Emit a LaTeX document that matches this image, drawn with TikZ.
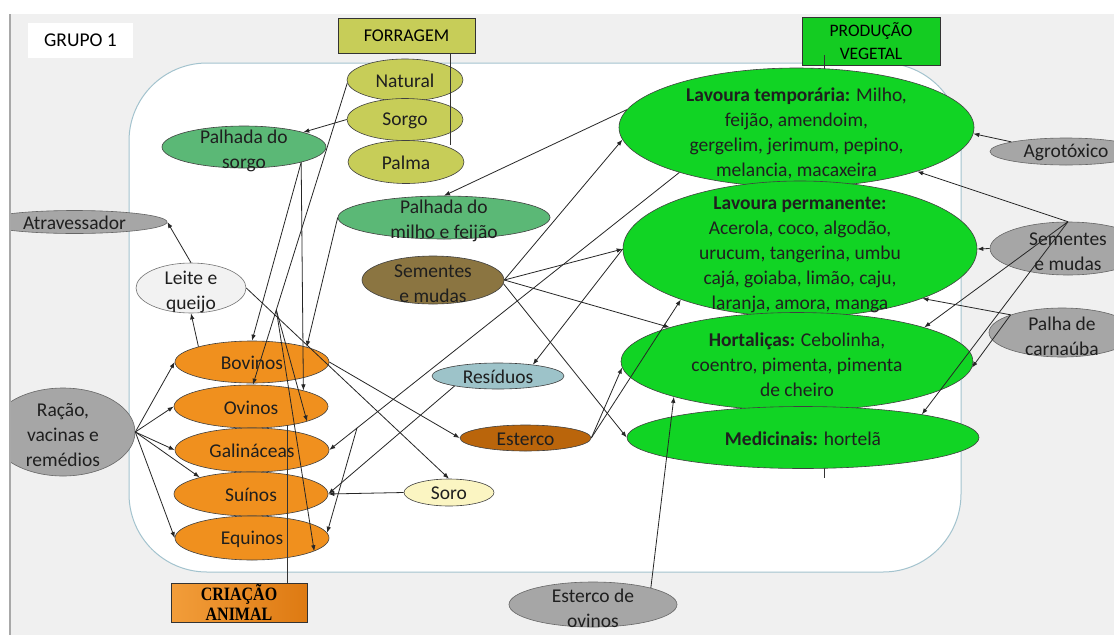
\documentclass[tikz,border=0pt]{standalone}
\usepackage{fontspec}
\setmainfont{Carlito}
\newfontfamily\timesb{Liberation Serif}
\usetikzlibrary{shapes.geometric,arrows.meta,calc}

\definecolor{bgc}{HTML}{F0F0F0}
\definecolor{leftc}{HTML}{A8A8A8}
\definecolor{rectc}{HTML}{A3C3CE}
\definecolor{forrc}{HTML}{C7CD58}
\definecolor{palhc}{HTML}{5BB876}
\definecolor{brownc}{HTML}{8B7541}
\definecolor{orngc}{HTML}{F0901E}
\definecolor{grayc}{HTML}{A6A6A6}
\definecolor{leitec}{HTML}{F2F2F2}
\definecolor{residc}{HTML}{9DC3C9}
\definecolor{esterc}{HTML}{BA650B}
\definecolor{soroc}{HTML}{FBF5C2}
\definecolor{grnc}{HTML}{11D424}
\definecolor{prodc}{HTML}{14CC22}
\definecolor{crial}{HTML}{F29D3A}
\definecolor{criar}{HTML}{DE7A12}

% name, x, y, rx, ry, ellipse style, text options, text
\newcommand{\ovalnode}[8]{%
  \node[ovalbase,#6,minimum width={#4*2pt},minimum height={#5*2pt}] (#1) at (#2,#3) {};
  \node[txt,#7] (#1-t) at (#2,#3) {#8};}

\tikzset{
  ovalbase/.style={ellipse, draw=black!75, line width=0.6pt, inner sep=0pt},
  forr/.style={fill=forrc},
  palh/.style={fill=palhc},
  brownst/.style={fill=brownc},
  orng/.style={fill=orngc},
  grayel/.style={fill=grayc, draw=black!60},
  leitest/.style={fill=leitec, draw=black!55},
  resst/.style={fill=residc},
  estst/.style={fill=esterc},
  sorost/.style={fill=soroc},
  grn/.style={fill=grnc},
  txt/.style={inner sep=0pt, align=center, font=\fontsize{19.5}{25}\selectfont, text=black!88, yshift=-1pt},
  ml/.style={yshift=-2.5pt},
  mlb/.style={yshift=-4.5pt},
  boxst/.style={draw=black!80, line width=0.8pt, inner sep=0pt, align=center},
  arr/.style={-{Latex[length=6pt,width=4.5pt]}, line width=0.8pt, draw=black!85},
  plain/.style={line width=0.8pt, draw=black!80},
}

\begin{document}
\begin{tikzpicture}[x=1pt,y=-1pt]
\useasboundingbox (0,0) rectangle (1114,635);
\clip (0,0) rectangle (1114,635);
\fill[bgc] (0,0) rectangle (1114,635);
\draw[draw=rectc, line width=1pt, fill=white, rounded corners=78pt] (129,63) rectangle (961,572);

% boxes
\node[fill=white, inner sep=0pt, minimum width=105pt, minimum height=35pt,
      font=\fontsize{19.5}{24}\selectfont] (grupo) at (80.5,40.5) {GRUPO 1};
\node[boxst, fill=forrc, minimum width=137pt, minimum height=35pt,
      font=\fontsize{18}{22}\selectfont] (forragem) at (406.5,35.5) {FORRAGEM};
\node[boxst, fill=prodc, minimum width=138pt, minimum height=48pt,
      font=\fontsize{17.5}{23}\selectfont] (producao) at (871,41) {PRODUÇÃO\\VEGETAL};
\node[boxst, left color=crial, right color=criar, minimum width=136pt, minimum height=39pt,
      font=\timesb\bfseries\fontsize{16}{20}\selectfont] (criacao) at (239,602.5)
      {\scalebox{1}[1.18]{CRIAÇÃO}\\\scalebox{1}[1.18]{ANIMAL}};

% stem behind green ellipses
\coordinate (prodtop) at (824,55);
\coordinate (prodbot) at (824,478);
\draw[plain] (prodtop) -- (prodbot);

% ellipses
\ovalnode{natural}{405}{80}{58}{21}{forr}{}{Natural}
\ovalnode{sorgo}{405}{119.5}{58}{21}{forr}{}{Sorgo}
\ovalnode{palma}{406}{162}{58}{21.5}{forr}{}{Palma}
\ovalnode{palsorgo}{244}{147}{82}{21}{palh}{ml}{Palhada do\\sorgo}
\ovalnode{palmilho}{444}{217.5}{106}{21.5}{palh}{ml}{Palhada do\\milho e feijão}
\ovalnode{sembr}{433}{280}{71}{24}{brownst}{ml}{Sementes\\e mudas}
\ovalnode{atrav}{74.5}{222}{92.5}{11.5}{grayel}{}{Atravessador}
\ovalnode{leite}{191}{288}{55}{25}{leitest}{ml}{Leite e\\queijo}
\ovalnode{racao}{63}{432}{72}{44}{grayel}{ml}{Ração,\\vacinas e\\remédios}
\ovalnode{bov}{252}{362}{77}{21}{orng}{}{Bovinos}
\ovalnode{ovi}{251}{406.5}{77}{21.5}{orng}{}{Ovinos}
\ovalnode{gal}{252}{450}{77}{22}{orng}{}{Galináceas}
\ovalnode{sui}{251}{494}{77}{22}{orng}{}{Suínos}
\ovalnode{equ}{252}{538}{77}{22}{orng}{}{Equinos}
\ovalnode{resid}{498}{376}{66}{13}{resst}{}{Resíduos}
\ovalnode{esterco}{525.5}{438}{65.5}{13}{estst}{}{Esterco}
\ovalnode{soro}{449}{492.5}{45}{13.5}{sorost}{}{Soro}
\ovalnode{estov}{593}{604.5}{84}{22.5}{grayel}{ml}{Esterco de\\ovinos}
\ovalnode{lavtemp}{796.5}{127.5}{177.5}{59.5}{grn}{mlb}{\textbf{Lavoura temporária:} Milho,\\feijão, amendoim,\\gergelim, jerimum, pepino,\\melancia, macaxeira}
\ovalnode{lavperm}{800}{249}{177}{68}{grn}{mlb}{\textbf{Lavoura permanente:}\\Acerola, coco, algodão,\\urucum, tangerina, umbu\\cajá, goiaba, limão, caju,\\laranja, amora, manga}
\ovalnode{hort}{797}{361.5}{176}{49}{grn}{ml}{\textbf{Hortaliças:} Cebolinha,\\coentro, pimenta, pimenta\\de cheiro}
\ovalnode{med}{803}{437.5}{176}{31}{grn}{}{\textbf{Medicinais:} hortelã}
\ovalnode{agro}{1066}{151.5}{76}{13.5}{grayel}{}{Agrotóxico}
\ovalnode{sg}{1068}{248.5}{78}{26.5}{grayel}{ml}{Sementes\\e mudas}
\ovalnode{palha}{1062}{332.5}{73}{24.5}{grayel}{ml}{Palha de\\carnaúba}

% stems over ellipses
\coordinate (forrbot) at (450,145);
\draw[plain] (forragem.south -| forrbot) -- (forrbot);
\coordinate (critop) at (287,425);
\draw[plain] (criacao.north -| critop) -- (critop);

% forage connectors
\draw[arr] (sorgo.west) -- (palsorgo.14);
\draw[arr] (natural.183) -- (ovi.85);
\coordinate (nb) at (276.3,310);
\draw[arr] (nb) -- (ovi.-15);
\draw[arr] (nb) -- (equ.-12);
\draw[arr] (palsorgo.-15) -- (bov.north);
\draw[arr] (palsorgo.-15) -- (ovi.17);
\draw[arr] (palmilho.west) -- (bov.north east);

% animal products
\draw[arr] (leite.east) -- (soro.north);
\draw[arr] (bov.east) -- (esterco.west);
\draw[arr] (bov.164) -- (leite.south);
\draw[arr] (leite.north) -- (atrav.east);

% ration
\draw[arr] (racao.east) -- (bov.west);
\draw[arr] (racao.east) -- (ovi.west);
\draw[arr] (racao.east) -- (gal.west);
\draw[arr] (racao.east) -- (sui.162);
\draw[arr] (racao.east) -- (equ.west);

% crops
\draw[arr] (lavtemp.174) -- (palmilho.north);
\draw[arr] (sembr.east) -- (lavtemp.184);
\draw[arr] (sembr.east) -- (lavperm.west);
\draw[arr] (sembr.east) -- (hort.165);
\draw[arr] (sembr.-3) -- (med.west);
\draw[arr] (lavtemp.201) -- (gal.east);
\coordinate (lb) at (357,428);
\draw[arr] (lb) -- (equ.4);
\draw[arr] (lavperm.west) -- (resid.18);
\draw[arr] (resid.193) -- (sui.east);
\draw[arr] (soro.west) -- (sui.east);
\draw[arr] (esterco.east) -- (hort.182);
\draw[arr] (esterco.east) -- (lavperm.203);
\draw[arr] (estov.16) -- (hort.196);

% external inputs
\draw[arr] (agro.170) -- (lavtemp.-2);
\draw[arr] (sg.north) -- (lavtemp.-20);
\draw[arr] (sg.west) -- (lavperm.east);
\draw[arr] (sg.north) -- (hort.15);
\draw[arr] (sg.north) -- (med.11);
\draw[arr] (palha.161) -- (lavperm.-22);
\draw[arr] (palha.161) -- (hort.-2);

% frame strips
\fill[white] (0,0) rectangle (1114,14);
\fill[white] (0,0) rectangle (9,635);
\draw[leftc, line width=1.8pt] (9.9,14) -- (9.9,635);
\end{tikzpicture}
\end{document}
